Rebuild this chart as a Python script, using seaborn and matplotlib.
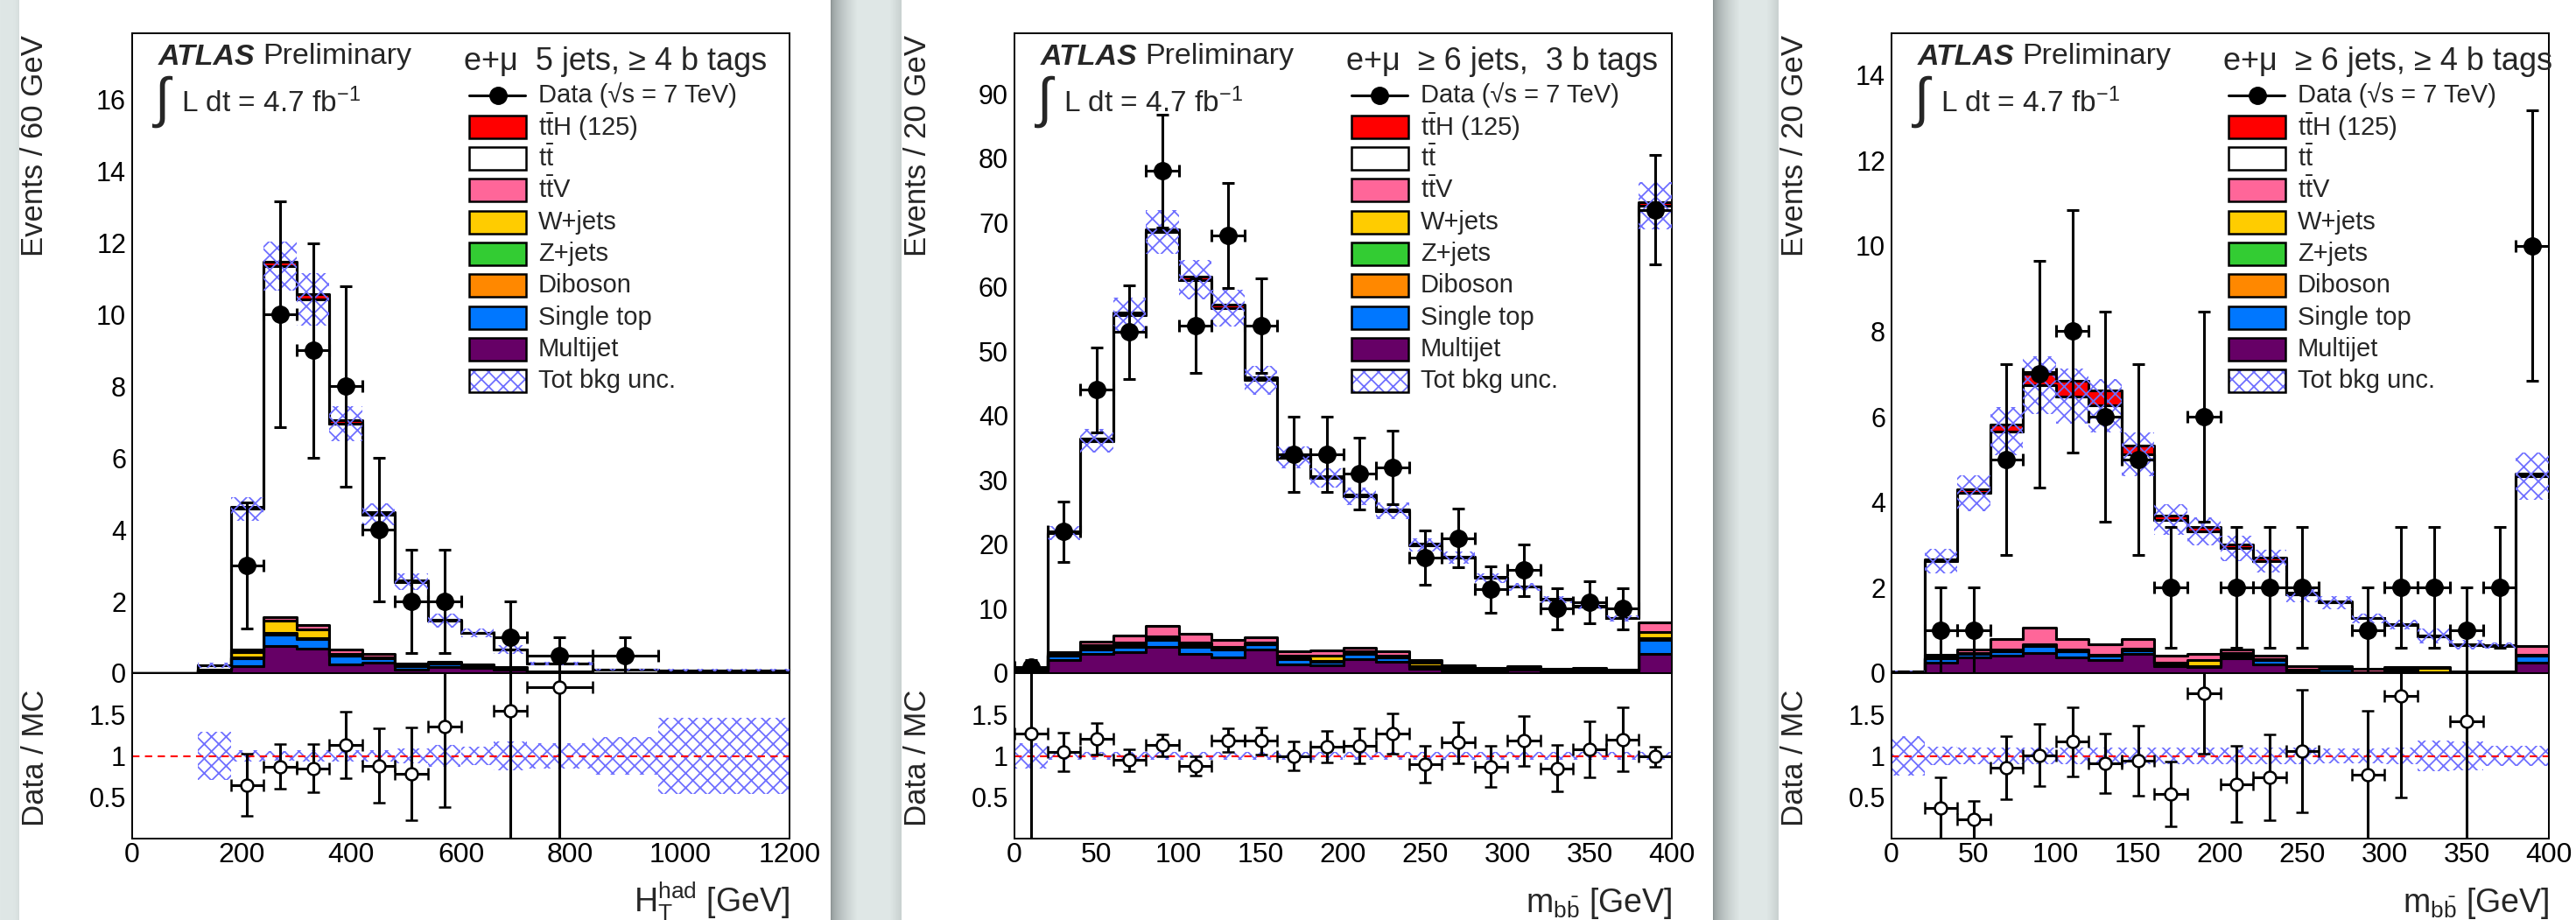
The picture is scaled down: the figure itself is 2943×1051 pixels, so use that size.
import numpy as np
import pandas as pd
import matplotlib
matplotlib.use("Agg")
import matplotlib.pyplot as plt
import seaborn as sns
from matplotlib.patches import Rectangle
from matplotlib.lines import Line2D
from matplotlib.ticker import MultipleLocator

sns.set_theme(style="white")
plt.rcParams["font.family"] = ["Liberation Sans", "DejaVu Sans"]
plt.rcParams["mathtext.fontset"] = "custom"
plt.rcParams["mathtext.rm"] = "Liberation Sans"
plt.rcParams["mathtext.it"] = "Liberation Sans:italic"
plt.rcParams["mathtext.bf"] = "Liberation Sans:bold"
plt.rcParams["hatch.linewidth"] = 1.3

# ---------------------------------------------------------------- data
processes = ["ttH", "tt", "ttV", "W+jets", "Z+jets", "Diboson", "Single top", "Multijet"]
legend_labels = [r"$\mathrm{t\bar{t}H}$ (125)", r"$\mathrm{t\bar{t}}$", r"$\mathrm{t\bar{t}V}$",
                 "W+jets", "Z+jets", "Diboson", "Single top", "Multijet"]
proc_colors = ["#ff0000", "#ffffff", "#ff6699", "#ffcc00", "#33cc33", "#ff8800", "#0077ff", "#660066"]
HATCH = "#6f6fff"

# Panel 1 : H_T^had, 5 jets >= 4 b tags
p1_edges = [0, 60, 120, 180, 240, 300, 360, 420, 480, 540, 600, 660, 720, 840, 960, 1200]
p1_ttH = [0, 0, 0, 0.05, 0.12, 0.15, 0.10, 0.07, 0.03, 0.02, 0.01, 0.01, 0, 0, 0]
p1_tt = [0, 0, 0.12, 3.93, 9.78, 9.08, 6.30, 3.90, 2.28, 1.14, 0.87, 0.50, 0.23, 0.10, 0.08]
p1_ttV = [0, 0, 0, 0.06, 0.10, 0.12, 0.12, 0.08, 0.05, 0.04, 0.03, 0.02, 0.01, 0, 0]
p1_W = [0, 0, 0, 0.15, 0.35, 0.24, 0.04, 0.02, 0.02, 0.02, 0.01, 0.01, 0, 0, 0]
p1_Z = [0, 0, 0, 0.01, 0.02, 0.01, 0.01, 0, 0, 0, 0, 0, 0, 0, 0]
p1_Dib = [0, 0, 0, 0.01, 0.02, 0.02, 0.01, 0.01, 0, 0, 0, 0, 0, 0, 0]
p1_ST = [0, 0, 0.02, 0.22, 0.33, 0.26, 0.24, 0.13, 0.10, 0.08, 0.06, 0.03, 0.01, 0, 0]
p1_MJ = [0, 0, 0.08, 0.20, 0.75, 0.69, 0.24, 0.29, 0.10, 0.18, 0.15, 0.10, 0.02, 0, 0]
p1_unc = [0, 0, 0.29, 0.07, 0.06, 0.07, 0.07, 0.07, 0.09, 0.13, 0.11, 0.17, 0.15, 0.23, 0.46]
p1_data = [np.nan, np.nan, np.nan, 3, 10, 9, 8, 4, 2, 2, np.nan, 1, 0.5, 0.5, np.nan]
p1_data_err = [0, 0, 0, 1.75, 3.15, 3.0, 2.8, 2.0, 1.45, 1.45, 0, 1.0, 0.5, 0.5, 0]
p1_ratio = [np.nan, np.nan, np.nan, 0.65, 0.87, 0.85, 1.13, 0.88, 0.78, 1.35, np.nan, 1.55, 1.83, np.nan, np.nan]
p1_ratio_err = [0, 0, 0, 0.38, 0.27, 0.29, 0.40, 0.45, 0.56, 0.97, 0, 1.55, 1.83, 0, 0]

# Panel 2 : m_bb, >= 6 jets 3 b tags
p2_edges = list(range(0, 401, 20))
p2_ttH = [0, 0.2, 0.3, 0.4, 0.5, 0.5, 0.5, 0.4, 0.3, 0.3, 0.25, 0.2, 0.2, 0.15, 0.1, 0.1, 0.1, 0.1, 0.1, 0.5]
p2_tt = [0.25, 18.4, 31.2, 49.7, 61.1, 55.0, 51.5, 39.9, 30.05, 26.8, 23.45, 21.8, 17.9, 16.75, 14.0, 12.3, 10.7, 9.6, 8.0, 64.7]
p2_ttV = [0.05, 0.3, 0.6, 1.1, 1.65, 1.4, 1.1, 0.8, 0.7, 0.8, 0.6, 0.7, 0.4, 0.3, 0.2, 0.2, 0.15, 0.2, 0.1, 1.5]
p2_W = [0, 0.2, 0.4, 0.5, 0.35, 0.4, 0.25, 0.2, 0.45, 0.8, 0.3, 0.2, 0.5, 0.2, 0.1, 0.1, 0.05, 0.1, 0.05, 1.0]
p2_Z = [0, 0.05, 0.1, 0.1, 0.1, 0.1, 0.05, 0.05, 0.05, 0.05, 0.05, 0.05, 0.05, 0, 0, 0, 0, 0, 0, 0.1]
p2_Dib = [0, 0.05, 0.1, 0.1, 0.1, 0.1, 0.1, 0.05, 0.05, 0.05, 0.05, 0.05, 0.05, 0, 0, 0, 0, 0, 0, 0.2]
p2_ST = [0.1, 0.7, 0.7, 0.9, 1.1, 1.1, 1.2, 0.8, 0.85, 0.6, 0.8, 0.7, 0.3, 0.3, 0.2, 0.3, 0.2, 0.2, 0.15, 2.1]
p2_MJ = [0.4, 2.0, 3.0, 3.2, 4.1, 3.0, 2.5, 3.7, 1.35, 1.2, 2.2, 1.7, 0.7, 0.4, 0.3, 0.5, 0.3, 0.3, 0.2, 3.0]
p2_unc = [0.15] + [0.05] * 19
p2_data = [1, 22, 44, 53, 78, 54, 68, 54, 34, 34, 31, 32, 18, 21, 13, 16, 10, 11, 10, 72]
p2_data_err = [1.0, 4.7, 6.6, 7.3, 8.8, 7.3, 8.2, 7.3, 5.8, 5.8, 5.6, 5.7, 4.2, 4.6, 3.6, 4.0, 3.2, 3.3, 3.2, 8.5]
p2_ratio = [1.27, 1.05, 1.21, 0.95, 1.13, 0.88, 1.19, 1.18, 1.0, 1.11, 1.12, 1.27, 0.9, 1.16, 0.87, 1.18, 0.85, 1.08, 1.2, 0.99]
p2_ratio_err = [1.27, 0.23, 0.19, 0.13, 0.13, 0.12, 0.14, 0.16, 0.17, 0.19, 0.21, 0.24, 0.22, 0.25, 0.25, 0.30, 0.28, 0.34, 0.39, 0.12]

# Panel 3 : m_bb, >= 6 jets >= 4 b tags
p3_edges = list(range(0, 401, 20))
p3_ttH = [0, 0.05, 0.1, 0.15, 0.3, 0.35, 0.35, 0.2, 0.1, 0.1, 0.1, 0.08, 0.05, 0.03, 0.02, 0.02, 0.02, 0.02, 0.02, 0.06]
p3_tt = [0.03, 2.18, 3.65, 4.86, 5.67, 5.68, 5.58, 4.33, 3.18, 2.86, 2.36, 2.21, 1.67, 1.48, 1.18, 0.98, 0.73, 0.61, 0.60, 3.97]
p3_ttV = [0, 0.08, 0.08, 0.25, 0.39, 0.25, 0.24, 0.22, 0.16, 0.15, 0.09, 0.08, 0.08, 0.06, 0.07, 0.04, 0.02, 0.02, 0.01, 0.19]
p3_W = [0, 0.02, 0.01, 0.02, 0.02, 0.02, 0.02, 0.02, 0.02, 0.15, 0.05, 0.02, 0.02, 0.01, 0, 0.01, 0.1, 0, 0, 0.02]
p3_Z = [0, 0, 0, 0.01, 0.01, 0.01, 0, 0, 0, 0, 0, 0, 0, 0, 0, 0, 0, 0, 0, 0]
p3_Dib = [0, 0, 0.01, 0.01, 0.01, 0.01, 0.01, 0.01, 0, 0, 0.01, 0, 0, 0, 0, 0, 0, 0, 0, 0.01]
p3_ST = [0, 0.09, 0.1, 0.1, 0.16, 0.15, 0.1, 0.08, 0.06, 0.01, 0.07, 0.11, 0.02, 0.08, 0.01, 0.05, 0.01, 0.01, 0.01, 0.16]
p3_MJ = [0.02, 0.25, 0.36, 0.41, 0.48, 0.36, 0.31, 0.46, 0.17, 0.15, 0.34, 0.2, 0.05, 0.02, 0.02, 0.05, 0.01, 0.02, 0.02, 0.25]
p3_unc = [0.24, 0.11, 0.10, 0.10, 0.10, 0.10, 0.10, 0.10, 0.10, 0.10, 0.10, 0.10, 0.10, 0.09, 0.09, 0.10, 0.19, 0.17, 0.12, 0.12]
p3_data = [np.nan, 1, 1, 5, 7, 8, 6, 5, 2, 6, 2, 2, 2, np.nan, 1, 2, 2, 1, 2, 10]
p3_data_err = [0, 1, 1, 2.23, 2.65, 2.83, 2.45, 2.23, 1.41, 2.45, 1.41, 1.41, 1.41, 0, 1, 1.41, 1.41, 1, 1.41, 3.16]
p3_ratio = [np.nan, 0.37, 0.23, 0.86, 1.01, 1.17, 0.91, 0.94, 0.54, 1.76, 0.66, 0.74, 1.06, np.nan, 0.77, 1.72, np.nan, 1.42, np.nan, np.nan]
p3_ratio_err = [0, 0.37, 0.23, 0.38, 0.38, 0.42, 0.36, 0.42, 0.39, 0.73, 0.46, 0.52, 0.74, 0, 0.78, 1.22, 0, 1.42, 0, 0]

panels = [
    dict(edges=p1_edges, comps=[p1_ttH, p1_tt, p1_ttV, p1_W, p1_Z, p1_Dib, p1_ST, p1_MJ], unc=p1_unc,
         data=p1_data, derr=p1_data_err, ratio=p1_ratio, rerr=p1_ratio_err,
         xmax=1200, ymax=17.85, xmaj=200, xmin=50, ymaj=2, ymin=0.5,
         ylabel="Events / 60 GeV", xlabel=r"$\mathrm{H_T^{had}}$ [GeV]",
         title="e+\u03bc  5 jets, \u2265 4 b tags", left=151),
    dict(edges=p2_edges, comps=[p2_ttH, p2_tt, p2_ttV, p2_W, p2_Z, p2_Dib, p2_ST, p2_MJ], unc=p2_unc,
         data=p2_data, derr=p2_data_err, ratio=p2_ratio, rerr=p2_ratio_err,
         xmax=400, ymax=99.4, xmaj=50, xmin=10, ymaj=10, ymin=2,
         ylabel="Events / 20 GeV", xlabel=r"$\mathrm{m_{b\bar{b}}}$ [GeV]",
         title="e+\u03bc  \u2265 6 jets,  3 b tags", left=1159),
    dict(edges=p3_edges, comps=[p3_ttH, p3_tt, p3_ttV, p3_W, p3_Z, p3_Dib, p3_ST, p3_MJ], unc=p3_unc,
         data=p3_data, derr=p3_data_err, ratio=p3_ratio, rerr=p3_ratio_err,
         xmax=400, ymax=14.97, xmaj=50, xmin=10, ymaj=2, ymin=0.5,
         ylabel="Events / 20 GeV", xlabel=r"$\mathrm{m_{b\bar{b}}}$ [GeV]",
         title="e+\u03bc  \u2265 6 jets, \u2265 4 b tags", left=2161),
]

# ---------------------------------------------------------------- layout helpers
W, H = 2943, 1051
fig = plt.figure(figsize=(W / 100, H / 100), dpi=100, facecolor="white")


def fx(px):
    return px / W


def fy(py):
    return 1 - py / H


# background strips (screenshot gaps between the three plots)
bg = np.ones((1, W, 3))
light = np.array([223, 231, 230]) / 255
dark = np.array([140, 148, 148]) / 255
edge = np.array([200, 208, 207]) / 255
for c in range(0, 22):
    t = c / 21
    bg[0, c] = light * (1 - 0.4 * t ** 6) + edge * 0.4 * t ** 6
for g0, g1 in [(949, 1030), (1957, 2032)]:
    for c in range(g0, g1):
        d = c - g0
        if d < 30:
            t = (d / 30) ** 0.6
            col = dark * (1 - t) + light * t
        elif c > g1 - 14:
            t = (c - (g1 - 14)) / 14
            col = light * (1 - t) + edge * t
        else:
            col = light
        bg[0, c] = col
bgax = fig.add_axes([0, 0, 1, 1], zorder=-10)
bgax.imshow(bg, aspect="auto", extent=(0, W, H, 0), interpolation="nearest")
bgax.axis("off")

AX_W = 751
MAIN_TOP, MAIN_BOT, RAT_BOT = 38, 769, 958
TICK_FS = 22
LEG_FS = 21
LW_STEP = 2.2

renderer = fig.canvas.get_renderer()

for P in panels:
    L = P["left"]
    edges = np.array(P["edges"], dtype=float)
    centers = 0.5 * (edges[:-1] + edges[1:])
    widths = np.diff(edges)

    ax = fig.add_axes([fx(L), fy(MAIN_BOT), AX_W / W, (MAIN_BOT - MAIN_TOP) / H])
    rax = fig.add_axes([fx(L), fy(RAT_BOT), AX_W / W, (RAT_BOT - MAIN_BOT) / H])

    # stacked MC via seaborn
    rows = []
    for proc, vals in zip(processes, P["comps"]):
        for c, v in zip(centers, vals):
            rows.append((float(c), float(v), proc))
    df = pd.DataFrame(rows, columns=["x", "w", "proc"])
    sns.histplot(data=df, x="x", weights="w", hue="proc", hue_order=processes,
                 palette=dict(zip(processes, proc_colors)), bins=[float(e) for e in P["edges"]],
                 stat="count", multiple="stack", element="step", fill=True, alpha=1,
                 edgecolor="black", linewidth=LW_STEP, legend=False, ax=ax)

    # background uncertainty hatch
    bkg = np.sum(np.array(P["comps"][1:], dtype=float), axis=0)
    rel = np.array(P["unc"], dtype=float)
    ax.bar(edges[:-1], 2 * bkg * rel, bottom=bkg * (1 - rel), width=widths, align="edge",
           fill=False, hatch="xx", edgecolor=HATCH, linewidth=0, zorder=3)

    data = np.array(P["data"], dtype=float)
    derr = np.array(P["derr"], dtype=float)
    m = ~np.isnan(data)
    ax.errorbar(centers[m], data[m], yerr=derr[m], xerr=widths[m] / 2, fmt="o", color="black",
                ms=14, elinewidth=2.2, capsize=5, capthick=2.2, zorder=5)

    ax.set_xlim(0, P["xmax"])
    ax.set_ylim(0, P["ymax"])
    ax.set_xlabel("")
    ax.set_ylabel("")

    # ratio panel
    rax.bar(edges[:-1], np.where(bkg > 0, 2 * rel, 0), bottom=1 - rel, width=widths, align="edge",
            fill=False, hatch="xx", edgecolor=HATCH, linewidth=0, zorder=1)
    rax.axhline(1, color="red", lw=1.5, ls=(0, (4, 3)), zorder=2)
    ratio = np.array(P["ratio"], dtype=float)
    rerr = np.array(P["rerr"], dtype=float)
    mr = ~np.isnan(ratio)
    rax.errorbar(centers[mr], ratio[mr], yerr=rerr[mr], xerr=widths[mr] / 2, fmt="o",
                 color="black", mfc="white", mec="black", mew=1.8, ms=10,
                 elinewidth=2.2, capsize=5, capthick=2.2, zorder=5)
    rax.set_xlim(0, P["xmax"])
    rax.set_ylim(0, 2)

    # ticks
    for a in (ax, rax):
        a.xaxis.set_major_locator(MultipleLocator(P["xmaj"]))
        a.xaxis.set_minor_locator(MultipleLocator(P["xmin"]))
        for s in a.spines.values():
            s.set_linewidth(1.4)
            s.set_color("black")
        a.tick_params(which="both", direction="in", top=False, right=False, colors="black",
                      width=1.4, labelsize=TICK_FS)
    ax.yaxis.set_major_locator(MultipleLocator(P["ymaj"]))
    ax.yaxis.set_minor_locator(MultipleLocator(P["ymin"]))
    ax.tick_params(axis="y", which="major", length=18.7, pad=5)
    ax.tick_params(axis="y", which="minor", length=9.4)
    ax.tick_params(axis="x", which="major", length=14, labelbottom=False)
    ax.tick_params(axis="x", which="minor", length=7)
    ax.yaxis.set_major_formatter(matplotlib.ticker.FuncFormatter(lambda v, p: f"{v:g}"))

    rax.set_yticks([0.5, 1, 1.5])
    rax.set_yticklabels(["0.5", "1", "1.5"])
    rax.yaxis.set_minor_locator(MultipleLocator(0.1))
    rax.tick_params(axis="y", which="major", length=12.3, pad=5)
    rax.tick_params(axis="y", which="minor", length=6.5)
    rax.tick_params(axis="x", which="major", length=8.6, pad=3, labelsize=23)
    rax.tick_params(axis="x", which="minor", length=5)
    rax.set_xlabel("")
    rax.set_ylabel("")

    # axis titles
    fig.text(fx(L - 111), fy(40), P["ylabel"], rotation=90, ha="center", va="top", fontsize=25)
    fig.text(fx(L - 111), fy(788), "Data / MC", rotation=90, ha="center", va="top", fontsize=25)
    fig.text(fx(L + AX_W), fy(1042), P["xlabel"], ha="right", va="baseline", fontsize=27)

    # ATLAS label
    t1 = fig.text(fx(L + 30), fy(65), "ATLAS", fontsize=24.5, fontweight="bold", style="italic",
                  va="center")
    bb = t1.get_window_extent(renderer)
    fig.text(fx(bb.x1 + 9), fy(65), "Preliminary", fontsize=24.5, va="center")
    fig.text(fx(L + 26), fy(116), "\u222b", fontsize=45, va="center")
    fig.text(fx(L + 56), fy(118), r"L dt = 4.7 fb$^{\mathrm{-1}}$", fontsize=24, va="center")

    # channel title
    fig.text(fx(L + 379), fy(70), P["title"], fontsize=26, va="center")

    # legend
    y0 = 108.5
    step = 36.3
    x0, x1 = L + 385, L + 450
    fig.add_artist(Line2D([fx(x0), fx(x1 - 1)], [fy(y0), fy(y0)], transform=fig.transFigure,
                          color="black", lw=2.2))
    fig.add_artist(Line2D([fx(0.5 * (x0 + x1))], [fy(y0)], transform=fig.transFigure,
                          color="black", marker="o", ms=14, lw=0))
    fig.text(fx(L + 464), fy(y0), "Data (\u221as = 7 TeV)", fontsize=LEG_FS, va="center")
    for k, (lab, col) in enumerate(zip(legend_labels, proc_colors)):
        yc = y0 + step * (k + 1)
        fig.add_artist(Rectangle((fx(x0), fy(yc + 13)), (x1 - x0) / W, 26 / H,
                                 transform=fig.transFigure, facecolor=col, edgecolor="black", lw=1.8))
        fig.text(fx(L + 464), fy(yc), lab, fontsize=LEG_FS, va="center")
    yc = y0 + step * 9
    fig.add_artist(Rectangle((fx(x0), fy(yc + 13)), (x1 - x0) / W, 26 / H, transform=fig.transFigure,
                             facecolor="white", edgecolor=HATCH, hatch="xx", lw=0))
    fig.add_artist(Rectangle((fx(x0), fy(yc + 13)), (x1 - x0) / W, 26 / H, transform=fig.transFigure,
                             fill=False, edgecolor="black", lw=1.8))
    fig.text(fx(L + 464), fy(yc), "Tot bkg unc.", fontsize=LEG_FS, va="center")

fig.savefig("out.png", dpi=100)
